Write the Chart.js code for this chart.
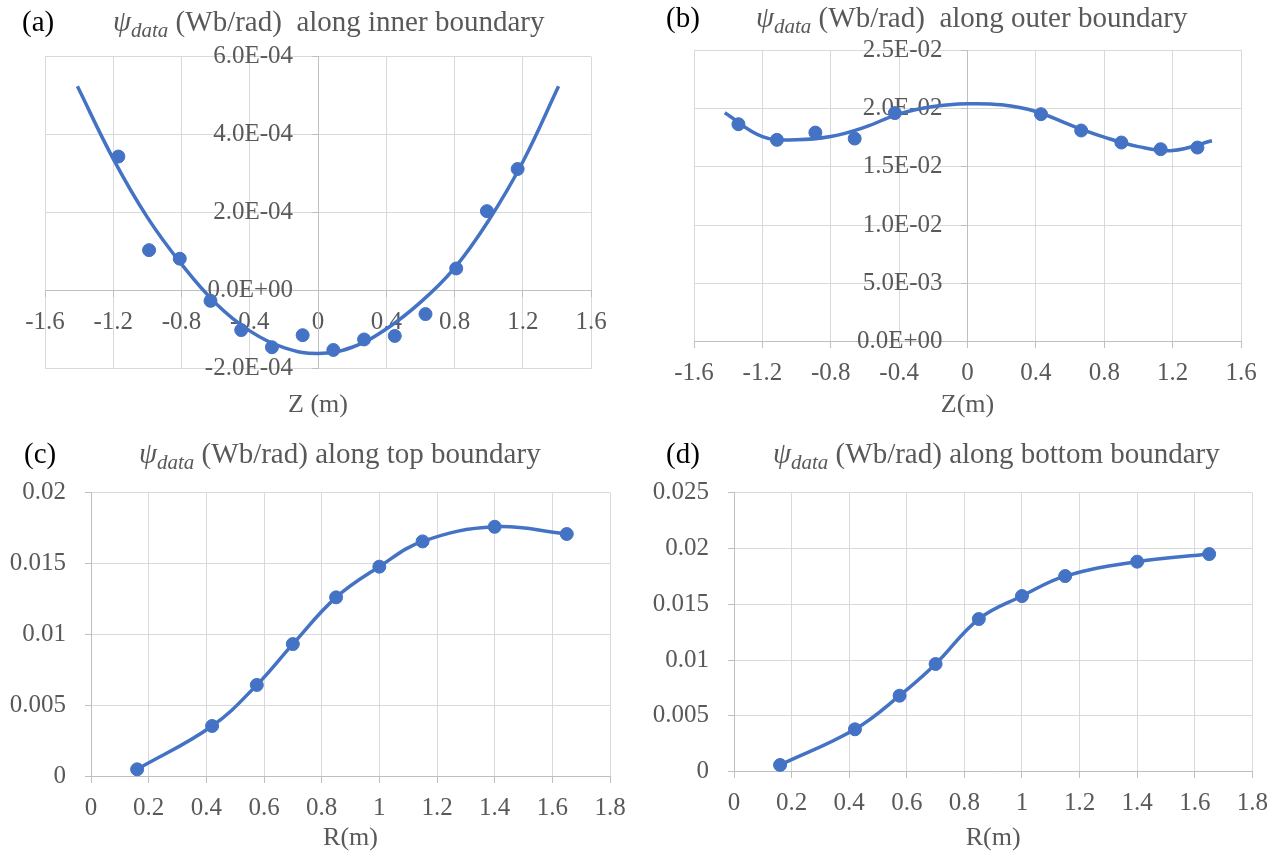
<!DOCTYPE html>
<html>
<head>
<meta charset="utf-8">
<title>ψ data along the four boundaries</title>
<script src="https://cdn.jsdelivr.net/npm/chart.js@4.4.1/dist/chart.umd.min.js"></script>
<style>
  html, body { margin: 0; padding: 0; background: #fff; }
  #page { position: relative; width: 1279px; height: 856px; overflow: hidden;
          font-family: 'Liberation Serif', 'Times New Roman', serif; }
  canvas { position: absolute; }
  .tag { position: absolute; font-size: 29px; line-height: 29px; color: #000; white-space: nowrap; }
  .ttl { position: absolute; font-size: 29px; line-height: 29px; color: #595959; white-space: nowrap; }
  .ttl .psi { font-style: italic; }
  .ttl sub { font-size: 21px; font-style: italic; vertical-align: -6px; line-height: 0; }
</style>
</head>
<body>
<div id="page">
  <canvas id="chartA" width="640" height="428" style="left:0px;top:0px"></canvas>
  <canvas id="chartB" width="639" height="428" style="left:640px;top:0px"></canvas>
  <canvas id="chartC" width="640" height="428" style="left:0px;top:428px"></canvas>
  <canvas id="chartD" width="639" height="428" style="left:640px;top:428px"></canvas>

  <div class="tag" style="left:22px;top:7px">(a)</div>
  <div class="ttl" style="left:113px;top:7px"><span class="psi">ψ</span><sub>data</sub> (Wb/rad)&nbsp; along inner boundary</div>

  <div class="tag" style="left:666px;top:3px">(b)</div>
  <div class="ttl" style="left:756px;top:3px"><span class="psi">ψ</span><sub>data</sub> (Wb/rad)&nbsp; along outer boundary</div>

  <div class="tag" style="left:24px;top:439px">(c)</div>
  <div class="ttl" style="left:139px;top:439px"><span class="psi">ψ</span><sub>data</sub> (Wb/rad) along top boundary</div>

  <div class="tag" style="left:666px;top:439px">(d)</div>
  <div class="ttl" style="left:773px;top:439px"><span class="psi">ψ</span><sub>data</sub> (Wb/rad) along bottom boundary</div>
</div>

<script>
// ---- (a) inner boundary: measured flux vs Z, with its fitted trend curve
const innerZ   = [-1.17, -0.99, -0.81, -0.63, -0.45, -0.27, -0.09, 0.09, 0.27, 0.45, 0.63, 0.81, 0.99, 1.17];
const innerPsi = [3.44e-4, 1.04e-4, 0.82e-4, -0.26e-4, -1.01e-4, -1.45e-4, -1.14e-4, -1.52e-4, -1.25e-4, -1.16e-4, -0.60e-4, 0.57e-4, 2.04e-4, 3.12e-4];
const innerFitZ   = [-1.41, -1.2, -1.0, -0.8, -0.6, -0.4, -0.2, 0, 0.2, 0.4, 0.6, 0.8, 1.0, 1.2, 1.41];
const innerFitPsi = [5.24e-4, 3.38e-4, 1.88e-4, 0.68e-4, -0.32e-4, -1.03e-4, -1.46e-4, -1.61e-4, -1.45e-4, -0.98e-4, -0.30e-4, 0.58e-4, 1.80e-4, 3.30e-4, 5.24e-4];

// ---- (b) outer boundary
const outerZ   = [-1.34, -1.115, -0.89, -0.66, -0.425, 0.43, 0.665, 0.90, 1.13, 1.345];
const outerPsi = [0.01864, 0.01730, 0.01792, 0.01741, 0.01959, 0.01950, 0.01810, 0.01707, 0.01650, 0.01664];
const outerFitZ   = [-1.42, -1.2, -1.0, -0.8, -0.6, -0.4, -0.2, 0, 0.2, 0.4, 0.6, 0.8, 1.0, 1.2, 1.43];
const outerFitPsi = [0.01962, 0.01758, 0.01730, 0.01758, 0.01839, 0.01953, 0.02016, 0.02039, 0.02030, 0.01973, 0.01858, 0.01753, 0.01672, 0.01638, 0.01722];

// ---- (c) top boundary and (d) bottom boundary, vs R
const topR     = [0.16, 0.42, 0.575, 0.70, 0.85, 1.0, 1.15, 1.4, 1.65];
const topPsi   = [0.00052, 0.00357, 0.00646, 0.00934, 0.01263, 0.01479, 0.01657, 0.0176, 0.01709];
const bottomR   = [0.16, 0.42, 0.575, 0.70, 0.85, 1.0, 1.15, 1.4, 1.65];
const bottomPsi = [0.0006, 0.0038, 0.00681, 0.00965, 0.01368, 0.01574, 0.01753, 0.01882, 0.0195];

// ---- tick positions and their printed labels
const zTicks       = [-1.6, -1.2, -0.8, -0.4, 0, 0.4, 0.8, 1.2, 1.6];
const zTickLabels  = ['-1.6', '-1.2', '-0.8', '-0.4', '0', '0.4', '0.8', '1.2', '1.6'];
const rTicks       = [0, 0.2, 0.4, 0.6, 0.8, 1.0, 1.2, 1.4, 1.6, 1.8];
const rTickLabels  = ['0', '0.2', '0.4', '0.6', '0.8', '1', '1.2', '1.4', '1.6', '1.8'];
const innerYTicks  = [-2e-4, 0, 2e-4, 4e-4, 6e-4];
const innerYLabels = ['-2.0E-04', '0.0E+00', '2.0E-04', '4.0E-04', '6.0E-04'];
const outerYTicks  = [0, 0.005, 0.010, 0.015, 0.020, 0.025];
const outerYLabels = ['0.0E+00', '5.0E-03', '1.0E-02', '1.5E-02', '2.0E-02', '2.5E-02'];
const topYTicks    = [0, 0.005, 0.010, 0.015, 0.020];
const topYLabels   = ['0', '0.005', '0.01', '0.015', '0.02'];
const bottomYTicks  = [0, 0.005, 0.010, 0.015, 0.020, 0.025];
const bottomYLabels = ['0', '0.005', '0.01', '0.015', '0.02', '0.025'];

const FONT = "'Liberation Serif', 'Times New Roman', serif";
const BLUE = '#4472C4';
const TEXT = '#595959';
const GRID = '#d9d9d9';
const AXIS = '#bfbfbf';
const TICK_SIZE = 25;

Chart.defaults.font.family = FONT;
Chart.defaults.color = TEXT;

const pairs = (xs, ys) => xs.map((x, i) => ({ x: x, y: ys[i] }));
const fixedTicks = values => scale => { scale.ticks = values.map(v => ({ value: v })); };

function markers(xs, ys) {
  return {
    data: pairs(xs, ys), showLine: false,
    pointRadius: 6.5, pointHoverRadius: 6.5, pointBorderWidth: 1,
    pointBackgroundColor: BLUE, pointBorderColor: BLUE
  };
}
// smooth Bezier line through the given points
function curve(xs, ys) {
  return {
    data: pairs(xs, ys), showLine: true, fill: false,
    borderColor: BLUE, borderWidth: 3.5, pointRadius: 0, pointHoverRadius: 0,
    tension: 0.4
  };
}

function panel(id, p) {
  return new Chart(document.getElementById(id), {
    type: 'scatter',
    data: { datasets: p.datasets },
    options: {
      responsive: false,
      animation: false,
      devicePixelRatio: 1,
      events: [],
      layout: { padding: p.padding },
      plugins: {
        legend: { display: false },
        tooltip: { enabled: false },
        title: {
          display: true, position: 'bottom', fullSize: false,
          text: p.xTitle, color: TEXT,
          font: { family: FONT, size: 26, weight: 'normal', lineHeight: 1.2 },
          padding: { top: p.titleGap, bottom: 0 }
        }
      },
      scales: {
        x: {
          type: 'linear', position: { y: 0 },
          min: p.xTicks[0], max: p.xTicks[p.xTicks.length - 1],
          afterBuildTicks: fixedTicks(p.xTicks),
          ticks: {
            callback: (v, i) => p.xLabels[i],
            font: { size: TICK_SIZE }, color: TEXT, padding: 11,
            autoSkip: false, maxRotation: 0, minRotation: 0
          },
          grid: { color: GRID, tickColor: AXIS, tickLength: 6, drawTicks: true, lineWidth: 1 },
          border: { color: AXIS, width: 1 }
        },
        y: {
          type: 'linear', position: { x: 0 },
          min: p.yTicks[0], max: p.yTicks[p.yTicks.length - 1],
          afterBuildTicks: fixedTicks(p.yTicks),
          ticks: {
            // the em space keeps each label clear of the axis line it sits against
            callback: (v, i) => p.yLabels[i] + '\u2003',
            font: { size: TICK_SIZE }, color: TEXT, padding: 0, autoSkip: false
          },
          grid: { color: GRID, tickColor: AXIS, tickLength: 6, drawTicks: true, lineWidth: 1 },
          border: { color: AXIS, width: 1 }
        }
      }
    }
  });
}

panel('chartA', {
  datasets: [curve(innerFitZ, innerFitPsi), markers(innerZ, innerPsi)],
  xTicks: zTicks, xLabels: zTickLabels, yTicks: innerYTicks, yLabels: innerYLabels,
  xTitle: 'Z (m)', titleGap: 20.7,
  padding: { left: 45, right: 49, top: 56.7, bottom: 7.4 }
});

panel('chartB', {
  datasets: [curve(outerFitZ, outerFitPsi), markers(outerZ, outerPsi)],
  xTicks: zTicks, xLabels: zTickLabels, yTicks: outerYTicks, yLabels: outerYLabels,
  xTitle: 'Z(m)', titleGap: 47.7,
  padding: { left: 54, right: 38, top: 50, bottom: 7.4 }
});

panel('chartC', {
  datasets: [curve(topR, topPsi), markers(topR, topPsi)],
  xTicks: rTicks, xLabels: rTickLabels, yTicks: topYTicks, yLabels: topYLabels,
  xTitle: 'R(m)', titleGap: 45.7,
  padding: { left: 91, right: 30, top: 64.7, bottom: 2.4 }
});

panel('chartD', {
  datasets: [curve(bottomR, bottomPsi), markers(bottomR, bottomPsi)],
  xTicks: rTicks, xLabels: rTickLabels, yTicks: bottomYTicks, yLabels: bottomYLabels,
  xTitle: 'R(m)', titleGap: 50.7,
  padding: { left: 94, right: 23, top: 64.7, bottom: 2.4 }
});
</script>
</body>
</html>
